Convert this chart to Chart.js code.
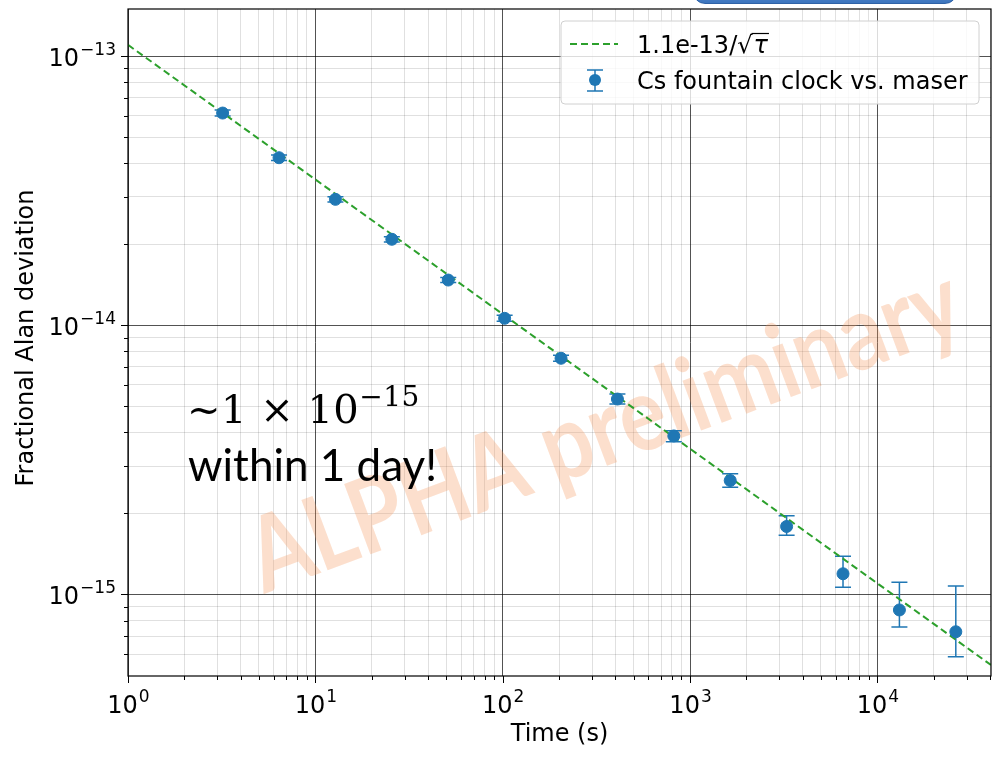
<!DOCTYPE html>
<html>
<head>
<meta charset="utf-8">
<script src="https://cdn.jsdelivr.net/npm/chart.js@4.4.1/dist/chart.umd.min.js"></script>
<style>
html, body { margin: 0; padding: 0; background: #fff; }
#wrap { position: relative; width: 998px; height: 757px; overflow: hidden; }
#myChart { position: absolute; left: 0; top: 0; }
#tab { position: absolute; left: 693px; top: -20px; width: 262px; height: 22px; border-radius: 12px;
       background: linear-gradient(#6a9fe0, #3c74bd); border: 1px solid #2f62a6; }
.note { position: absolute; color: #000; white-space: nowrap; }
#note1 { left: 187px; top: 383px; font-family: 'DejaVu Serif', serif; font-size: 40px; letter-spacing: 0.5px; }
#note1 sup { font-size: 28px; position: relative; top: -3px; }
#note2 { left: 188px; top: 438px; font-family: Lato, 'Open Sans', sans-serif; font-size: 44px; }
</style>
</head>
<body>
<div id="wrap">
  <canvas id="myChart" width="998" height="757"></canvas>
  <div id="tab"></div>
  <div class="note" id="note1">~1 × 10<sup>−15</sup></div>
  <div class="note" id="note2">within 1 day!</div>
</div>
<script>
// averaging time (s)
var tau = [3.2, 6.4, 12.8, 25.6, 51.2, 102.4, 204.8, 409.6, 819.2, 1638.4, 3276.8, 6553.6, 13107.2, 26214.4];
// Allan deviation and error bar ends
var adev = [6.14e-14, 4.19e-14, 2.935e-14, 2.086e-14, 1.472e-14, 1.061e-14, 7.54e-15, 5.32e-15, 3.88e-15, 2.65e-15, 1.789e-15, 1.194e-15, 8.76e-16, 7.27e-16];
var adevHigh = [6.30e-14, 4.29e-14, 3.00e-14, 2.13e-14, 1.504e-14, 1.089e-14, 7.74e-15, 5.55e-15, 4.06e-15, 2.81e-15, 1.962e-15, 1.386e-15, 1.110e-15, 1.075e-15];
var adevLow = [5.99e-14, 4.09e-14, 2.87e-14, 2.04e-14, 1.441e-14, 1.034e-14, 7.35e-15, 5.10e-15, 3.69e-15, 2.50e-15, 1.659e-15, 1.063e-15, 7.57e-16, 5.87e-16];
// 1.1e-13/sqrt(tau) reference line end points
var fitTau = [1, 40400];
var fitDev = [1.1e-13, 5.47e-16];

var xMajor = [1, 10, 100, 1000, 10000];
var xMajorExp = ['0', '1', '2', '3', '4'];
var yMajor = [1e-15, 1e-14, 1e-13];
var yMajorExp = ['\u221215', '\u221214', '\u221213'];

var fitLabel = ['1.1e-13/', '\u221A', '\u03C4'];
var dataLabel = 'Cs fountain clock vs. maser';
var xTitle = 'Time (s)';
var yTitle = 'Fractional Alan deviation';
var watermark = 'ALPHA preliminary';

var blue = '#1f77b4';
var green = '#2ca02c';
var tickFont = '24px "DejaVu Sans"';
var supFont = '17px "DejaVu Sans"';

function isDecade(v) {
  var e = Math.log10(v);
  return Math.abs(e - Math.round(e)) < 1e-6;
}
function wholeMantissa(v) {
  var m = v / Math.pow(10, Math.floor(Math.log10(v) + 1e-9));
  return Math.abs(m - Math.round(m)) < 1e-6;
}

var ctx = document.getElementById('myChart');

var extras = {
  id: 'extras',
  beforeDatasetsDraw: function (chart) {
    var c = chart.ctx, a = chart.chartArea;
    var xs = chart.scales.x, ys = chart.scales.y;
    // watermark
    c.save();
    c.beginPath(); c.rect(a.left, a.top, a.right - a.left, a.bottom - a.top); c.clip();
    c.translate(264, 594);
    c.rotate(-20.5 * Math.PI / 180);
    c.scale(1, 1.18);
    c.font = 'bold 100px Lato';
    var w = c.measureText(watermark).width;
    c.font = 'bold ' + (100 * 752 / w).toFixed(1) + 'px Lato';
    c.fillStyle = 'rgba(246, 150, 90, 0.3)';
    c.textBaseline = 'alphabetic';
    c.fillText(watermark, 0, 0);
    c.restore();
    // error bars
    c.save();
    c.strokeStyle = blue;
    c.lineWidth = 1.5;
    for (var i = 0; i < tau.length; i++) {
      var px = xs.getPixelForValue(tau[i]);
      var y1 = ys.getPixelForValue(adevHigh[i]);
      var y2 = ys.getPixelForValue(adevLow[i]);
      c.beginPath();
      c.moveTo(px, y1); c.lineTo(px, y2);
      c.moveTo(px - 8, y1); c.lineTo(px + 8, y1);
      c.moveTo(px - 8, y2); c.lineTo(px + 8, y2);
      c.stroke();
    }
    c.restore();
  },
  afterDraw: function (chart) {
    var c = chart.ctx, a = chart.chartArea;
    var xs = chart.scales.x, ys = chart.scales.y;
    c.save();
    // frame
    c.strokeStyle = '#000';
    c.lineWidth = 1.2;
    c.strokeRect(a.left, a.top, a.right - a.left, a.bottom - a.top);
    // tick marks
    c.lineWidth = 1;
    c.beginPath();
    xs.ticks.forEach(function (t) {
      var px = Math.round(xs.getPixelForValue(t.value)) + 0.5;
      var len = isDecade(t.value) ? 7 : 4;
      c.moveTo(px, a.bottom); c.lineTo(px, a.bottom + len);
    });
    ys.ticks.forEach(function (t) {
      var py = Math.round(ys.getPixelForValue(t.value)) + 0.5;
      var len = isDecade(t.value) ? 7 : 4;
      c.moveTo(a.left, py); c.lineTo(a.left - len, py);
    });
    c.stroke();
    // tick labels: 10 with superscript exponent
    c.fillStyle = '#000';
    c.textBaseline = 'alphabetic';
    c.textAlign = 'left';
    xMajor.forEach(function (v, i) {
      c.font = tickFont; var w1 = c.measureText('10').width;
      c.font = supFont; var w2 = c.measureText(xMajorExp[i]).width;
      var x0 = xs.getPixelForValue(v) - (w1 + w2) / 2;
      c.font = tickFont; c.fillText('10', x0, 713);
      c.font = supFont; c.fillText(xMajorExp[i], x0 + w1 + 1, 702);
    });
    yMajor.forEach(function (v, i) {
      var py = ys.getPixelForValue(v);
      c.font = supFont; var w2 = c.measureText(yMajorExp[i]).width;
      c.font = tickFont; var w1 = c.measureText('10').width;
      var x0 = a.left - 12 - w2 - w1 - 1;
      c.fillText('10', x0, py + 10);
      c.font = supFont; c.fillText(yMajorExp[i], x0 + w1 + 1, py - 1);
    });
    // axis titles
    c.font = tickFont;
    c.textAlign = 'center';
    c.textBaseline = 'middle';
    c.fillText(xTitle, (a.left + a.right) / 2, 735);
    c.save();
    c.translate(27, 338);
    c.rotate(-Math.PI / 2);
    c.fillText(yTitle, 0, 0);
    c.restore();
    // legend
    var lx = a.right - 430, ly = a.top + 12, lw = 418, lh = 83;
    c.beginPath();
    c.roundRect(lx, ly, lw, lh, 4);
    c.fillStyle = 'rgba(255,255,255,0.8)';
    c.fill();
    c.strokeStyle = '#d0d0d0';
    c.lineWidth = 1;
    c.stroke();
    c.strokeStyle = green;
    c.lineWidth = 2;
    c.setLineDash([7, 4]);
    c.beginPath(); c.moveTo(lx + 9, ly + 23); c.lineTo(lx + 57, ly + 23); c.stroke();
    c.setLineDash([]);
    c.strokeStyle = blue;
    c.lineWidth = 1.5;
    var mx = lx + 34, my = ly + 59;
    c.beginPath();
    c.moveTo(mx, my - 10); c.lineTo(mx, my + 11);
    c.moveTo(mx - 8, my - 10); c.lineTo(mx + 8, my - 10);
    c.moveTo(mx - 8, my + 11); c.lineTo(mx + 8, my + 11);
    c.stroke();
    c.fillStyle = blue;
    c.beginPath(); c.arc(mx, my, 6, 0, Math.PI * 2); c.fill();
    // legend texts
    c.fillStyle = '#000';
    c.textAlign = 'left';
    c.textBaseline = 'alphabetic';
    var tx = lx + 76;
    c.font = tickFont;
    c.fillText(fitLabel[0], tx, ly + 32);
    var w0 = c.measureText(fitLabel[0]).width;
    c.fillText(fitLabel[1], tx + w0, ly + 32);
    var ws = c.measureText(fitLabel[1]).width;
    c.font = 'italic 24px "DejaVu Sans"';
    c.fillText(fitLabel[2], tx + w0 + ws + 1, ly + 32);
    var wt = c.measureText(fitLabel[2]).width;
    c.strokeStyle = '#000';
    c.lineWidth = 1.2;
    c.beginPath();
    c.moveTo(tx + w0 + ws - 1, ly + 12.5); c.lineTo(tx + w0 + ws + wt + 2, ly + 12.5);
    c.stroke();
    c.font = tickFont;
    c.fillText(dataLabel, tx, ly + 68);
    c.restore();
  }
};

function axisGrid() {
  return {
    drawTicks: false,
    lineWidth: 1,
    color: function (g) {
      return g.tick && isDecade(g.tick.value) ? 'rgba(0,0,0,0.68)' : 'rgba(0,0,0,0.12)';
    }
  };
}

var myChart = new Chart(ctx, {
  type: 'scatter',
  data: {
    datasets: [{
      label: dataLabel,
      data: tau.map(function (t, i) { return {x: t, y: adev[i]}; }),
      backgroundColor: blue,
      borderColor: blue,
      pointRadius: 6,
      pointHoverRadius: 6,
      order: 0
    }, {
      label: fitLabel.join(''),
      type: 'line',
      data: fitTau.map(function (t, i) { return {x: t, y: fitDev[i]}; }),
      borderColor: green,
      borderWidth: 2,
      borderDash: [7, 4],
      pointRadius: 0,
      fill: false,
      order: 1
    }]
  },
  options: {
    responsive: false,
    maintainAspectRatio: false,
    animation: false,
    layout: { padding: { top: 9, right: 6, left: 0, bottom: 0 } },
    plugins: { legend: { display: false }, tooltip: { enabled: false } },
    scales: {
      x: {
        type: 'logarithmic',
        min: 1,
        max: 40400,
        border: { display: false },
        grid: axisGrid(),
        ticks: { display: false, autoSkip: false },
        afterBuildTicks: function (s) {
          s.ticks = s.ticks.filter(function (t) { return t.value >= s.min && t.value <= s.max && wholeMantissa(t.value); });
        },
        afterFit: function (s) { s.height = 81; }
      },
      y: {
        type: 'logarithmic',
        min: 4.98e-16,
        max: 1.495e-13,
        border: { display: false },
        grid: axisGrid(),
        ticks: { display: false, autoSkip: false },
        afterBuildTicks: function (s) {
          s.ticks = s.ticks.filter(function (t) { return t.value >= s.min && t.value <= s.max && wholeMantissa(t.value); });
        },
        afterFit: function (s) { s.width = 128; }
      }
    }
  },
  plugins: [extras]
});
</script>
</body>
</html>
